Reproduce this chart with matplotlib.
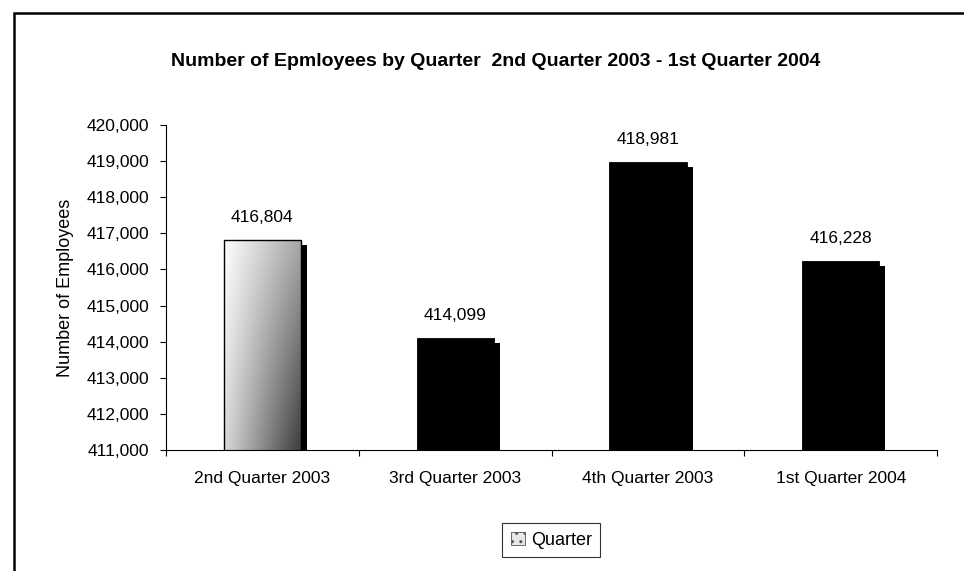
import numpy as np
import matplotlib
matplotlib.use("Agg")
import matplotlib.pyplot as plt
import matplotlib.patheffects as pe
from matplotlib.patches import Rectangle
from matplotlib.ticker import FuncFormatter

quarters = ["2nd Quarter 2003", "3rd Quarter 2003", "4th Quarter 2003", "1st Quarter 2004"]
employees = [416804, 414099, 418981, 416228]
bar_colors = ["none", "black", "black", "black"]

plt.rcParams["font.family"] = ["Liberation Sans", "DejaVu Sans"]

fig = plt.figure(figsize=(9.64, 5.71), dpi=100)
ax = fig.add_axes([0.1722, 0.2119, 0.800, 0.5692])

x = np.arange(len(quarters))
shadow = [pe.SimplePatchShadow(offset=(4.3, -3.6), shadow_rgbFace="black", alpha=1.0), pe.Normal()]
bars = ax.bar(x, employees, width=0.4, color=bar_colors, edgecolor="black", linewidth=0.6,
              zorder=1, path_effects=shadow)

# gradient fill for the first bar (white top-left to dark bottom-right)
b0 = bars[0]
bx0 = b0.get_x()
bw = b0.get_width()
gx, gy = np.meshgrid(np.linspace(0, 1, 200), np.linspace(0, 1, 200))
shade = 1.0 - 0.35 * gx - 0.15 * gy - 0.27 * gx * gy
ax.imshow(shade, cmap="gray", vmin=0, vmax=1, origin="upper", aspect="auto",
          extent=[bx0, bx0 + bw, 411000, employees[0]], zorder=2,
          clip_path=b0, clip_on=True)
ax.bar(x[:1], employees[:1], width=0.4, color="none", edgecolor="black", linewidth=1.0, zorder=3)

for xi, v in zip(x, employees):
    ax.annotate(f"{v:,}", (xi, v), xytext=(0, 11), textcoords="offset points",
                ha="center", va="bottom", fontsize=12.5)

ax.set_xlim(-0.5, len(quarters) - 0.5)
ax.set_ylim(411000, 420000)
ax.set_yticks(np.arange(411000, 420001, 1000))
ax.yaxis.set_major_formatter(FuncFormatter(lambda v, p: f"{int(v):,}"))
ax.set_xticks(np.arange(-0.5, len(quarters), 1.0))
ax.set_xticklabels([])
ax.set_xticks(x, minor=True)
ax.set_xticklabels(quarters, minor=True)
ax.tick_params(axis="x", which="major", direction="out", length=4.3, width=0.8)
ax.tick_params(axis="x", which="minor", length=0, pad=15, labelsize=12.5)
ax.tick_params(axis="y", direction="out", length=4.3, width=0.8, pad=8, labelsize=12.5)

for s in ["top", "right"]:
    ax.spines[s].set_visible(False)
for s in ["left", "bottom"]:
    ax.spines[s].set_linewidth(0.8)

ax.set_ylabel("Number of Employees", fontsize=13, labelpad=9)

fig.text(0.514, 0.893, "Number of Epmloyees by Quarter  2nd Quarter 2003 - 1st Quarter 2004",
         ha="center", va="center", fontsize=14, fontweight="bold")

leg_patch = Rectangle((0, 0), 1, 1, facecolor="#e8e8e8", edgecolor="#555555", hatch="..", linewidth=0.6)
leg = fig.legend([leg_patch], ["Quarter"], loc="center", bbox_to_anchor=(0.572, 0.054),
                 fontsize=13, frameon=True, fancybox=False, handlelength=0.8, handleheight=0.8,
                 handletextpad=0.35, borderpad=0.45, borderaxespad=0)
leg.get_frame().set_edgecolor("black")
leg.get_frame().set_linewidth(0.8)

# outer chart frame, cut off at right and bottom
fig.patches.append(Rectangle((14 / 964, -0.1), 1.2, 1 - 13 / 571 + 0.1, transform=fig.transFigure,
                             fill=False, edgecolor="black", linewidth=1.8))

fig.savefig("out.png", dpi=100)
